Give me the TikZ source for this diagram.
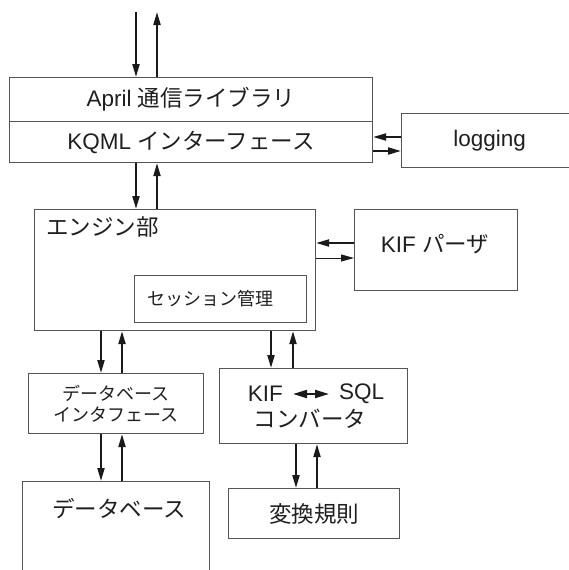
\documentclass[tikz,border=0pt]{standalone}
\usepackage{fontspec}
\setmainfont{Liberation Sans}
\newfontfamily\jpf{Noto Sans CJK JP}
\usetikzlibrary{arrows.meta}
\definecolor{boxc}{HTML}{555555}
\definecolor{arrc}{HTML}{1A1A1A}
\begin{document}
\begin{tikzpicture}[x=1pt,y=-1pt,
  box/.style={draw=boxc, line width=1.1pt, rectangle, inner sep=0pt, anchor=north west},
  bigtxt/.style={font=\fontsize{22.5}{27}\selectfont, inner sep=0pt, text=black!88},
  smalltxt/.style={font=\fontsize{18}{21}\selectfont, inner sep=0pt, text=black!88, align=center},
  arr/.style={draw=arrc, line width=2pt, -{Triangle[length=13pt,width=7pt]}},
  arrthin/.style={draw=arrc, line width=1pt, -{Triangle[length=13pt,width=7pt]}},
  dblarr/.style={draw=arrc, line width=2pt, {Triangle[length=14pt,width=8pt]}-{Triangle[length=14pt,width=8pt]}}]
\useasboundingbox (0,0) rectangle (569,570);
\clip (0,0) rectangle (569,570);
% boxes
\node[box, minimum width=363pt, minimum height=44pt, bigtxt] (april) at (9,77) {April {\jpf 通信ライブラリ}};
\node[box, minimum width=363pt, minimum height=41pt, bigtxt] (kqml) at (9,121) {KQML {\jpf インターフェース}};
\node[box, minimum width=176pt, minimum height=54pt, bigtxt] (logging) at (401,113) {logging};
\node[box, minimum width=281pt, minimum height=121pt] (engine) at (34,209) {};
\node[bigtxt, anchor=west] (englabel) at (46,227) {\jpf エンジン部};
\node[box, minimum width=172pt, minimum height=47pt] (session) at (134,275) {};
\node[smalltxt] (sesslabel) at (210,299) {\jpf セッション管理};
\node[box, minimum width=163pt, minimum height=81pt] (parser) at (354,209) {};
\node[bigtxt] (parserlabel) at (435,244) {KIF {\jpf パーザ}};
\node[box, minimum width=175pt, minimum height=60pt, smalltxt] (dbif) at (28,373) {\jpf データベース\\\jpf インタフェース};
\node[box, minimum width=188pt, minimum height=75pt] (conv) at (219,368) {};
\node[bigtxt, anchor=east] (kif) at (283,394) {KIF};
\node[bigtxt, anchor=west] (sql) at (339,394) {SQL};
\node[bigtxt] (convlabel) at (310,419) {\jpf コンバータ};
\node[box, minimum width=187pt, minimum height=120pt] (db) at (22,481) {};
\node[bigtxt] (dblabel) at (119,509) {\jpf データベース};
\node[box, minimum width=171pt, minimum height=50pt, bigtxt] (rules) at (228,488) {\jpf 変換規則};
% helper coordinates
\coordinate (topin) at (136,12);
\coordinate (topout) at (157,12);
\coordinate (c101) at (101,0);
\coordinate (c122) at (122,0);
\coordinate (c271) at (271,0);
\coordinate (c293) at (293,0);
\coordinate (c296) at (296,0);
\coordinate (c317) at (317,0);
\coordinate (y137) at (0,137);
\coordinate (y151) at (0,151);
\coordinate (y243) at (0,243);
\coordinate (y258) at (0,258);
% arrows
\draw[arr] (topin) -- (april.north -| topin);
\draw[arr] (april.north -| topout) -- (topout);
\draw[arr] (kqml.south -| topin) -- (engine.north -| topin);
\draw[arr] (engine.north -| topout) -- (kqml.south -| topout);
\draw[arr] (logging.west |- y137) -- (kqml.east |- y137);
\draw[arr] (kqml.east |- y151) -- (logging.west |- y151);
\draw[arr] (parser.west |- y243) -- (engine.east |- y243);
\draw[arrthin] (engine.east |- y258) -- (parser.west |- y258);
\draw[arr] (engine.south -| c101) -- (dbif.north -| c101);
\draw[arr] (dbif.north -| c122) -- (engine.south -| c122);
\draw[arr] (engine.south -| c271) -- (conv.north -| c271);
\draw[arr] (conv.north -| c293) -- (engine.south -| c293);
\draw[arr] (dbif.south -| c101) -- (db.north -| c101);
\draw[arr] (db.north -| c122) -- (dbif.south -| c122);
\draw[arr] (conv.south -| c296) -- (rules.north -| c296);
\draw[arr] (rules.north -| c317) -- (conv.south -| c317);
\draw[dblarr, shorten <=10pt, shorten >=10pt] (kif.east) -- (sql.west);
\end{tikzpicture}
\end{document}
